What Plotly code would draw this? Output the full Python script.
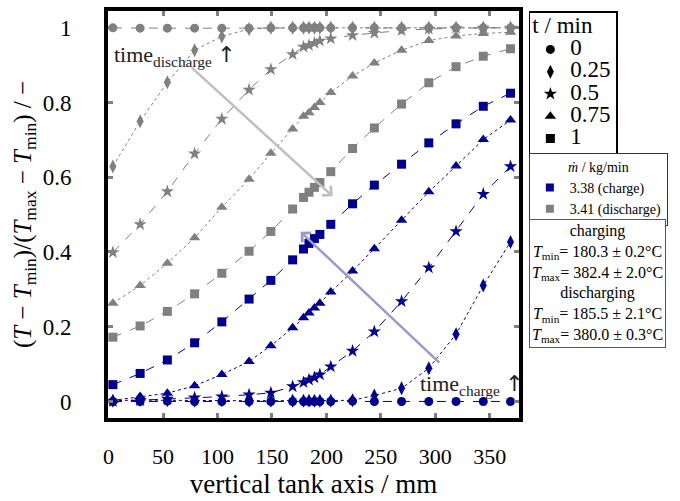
import plotly.graph_objects as go

# sensor positions along the vertical tank axis (mm)
positions = [4, 29, 54, 79, 104, 129, 149, 169, 179, 184, 189, 194, 204,
             224, 244, 269, 294, 319, 344, 369]

# dimensionless temperature, charging (m = 3.38 kg/min)
charge_t0 = [0.0, 0.0, 0.001, 0.0, 0.0, 0.0, 0.0, 0.0, 0.0, 0.0, 0.0, 0.0, 0.0,
             0.001, 0.0, 0.0, 0.0, 0.0, 0.0, 0.0]
charge_t025 = [0.002, 0.004, 0.003, 0.002, 0.003, 0.002, 0.002, 0.002, 0.002, 0.002,
               0.002, 0.002, 0.002, 0.003, 0.016, 0.035, 0.089, 0.180, 0.310, 0.427]
charge_t05 = [0.0, 0.003, 0.007, 0.010, 0.013, 0.018, 0.023, 0.040, 0.051, 0.058,
              0.064, 0.072, 0.093, 0.135, 0.187, 0.268, 0.358, 0.455, 0.555, 0.629]
charge_t075 = [0.003, 0.013, 0.022, 0.042, 0.072, 0.107, 0.149, 0.197, 0.224, 0.237,
               0.250, 0.263, 0.293, 0.349, 0.409, 0.485, 0.561, 0.630, 0.701, 0.753]
charge_t1 = [0.045, 0.075, 0.111, 0.157, 0.213, 0.274, 0.324, 0.379, 0.408, 0.423,
             0.436, 0.447, 0.474, 0.529, 0.579, 0.635, 0.692, 0.743, 0.790, 0.825]

# dimensionless temperature, discharging (m = 3.41 kg/min)
discharge_t0 = [1.0, 0.999, 0.999, 0.999, 0.999, 0.999, 1.0, 1.0, 1.0, 1.0,
                1.0, 1.0, 1.0, 1.0, 1.0, 1.0, 1.0, 1.0, 1.0, 1.0]
discharge_t025 = [0.629, 0.750, 0.854, 0.940, 0.977, 0.997, 1.0, 1.0, 1.0, 1.0,
                  1.0, 1.0, 1.0, 1.0, 1.0, 1.0, 1.0, 1.0, 1.0, 1.0]
discharge_t05 = [0.399, 0.474, 0.562, 0.663, 0.756, 0.834, 0.889, 0.929, 0.949, 0.953,
                 0.959, 0.965, 0.971, 0.980, 0.986, 0.993, 0.997, 0.999, 1.0, 1.0]
discharge_t075 = [0.263, 0.310, 0.370, 0.438, 0.520, 0.595, 0.664, 0.729, 0.763, 0.773,
                  0.787, 0.800, 0.827, 0.871, 0.906, 0.940, 0.966, 0.978, 0.985, 0.988]
discharge_t1 = [0.172, 0.202, 0.241, 0.288, 0.343, 0.402, 0.455, 0.515, 0.546, 0.560,
                0.573, 0.586, 0.615, 0.677, 0.732, 0.796, 0.853, 0.896, 0.924, 0.944]

time_labels = ["0", "0.25", "0.5", "0.75", "1"]
mass_flow_labels = ["3.38 (charge)", "3.41 (discharge)"]
x_ticks = [0, 50, 100, 150, 200, 250, 300, 350]
y_ticks = [0, 0.2, 0.4, 0.6, 0.8, 1]
y_tick_text = ["0", "0.2", "0.4", "0.6", "0.8", "1"]

BLUE = "#00008f"
GREY = "#808080"
FONT = "Liberation Serif"
ARROW = "<span style='font-family:DejaVu Sans'>↑</span>"

symbols = ["circle", "diamond-tall", "star", "triangle-up", "square"]
sizes = [9, 10, 10, 10, 9]
dashes = ["dash", "dot", "dash", "dot", "dash"]

fig = go.Figure()

for series_set, color in [([discharge_t0, discharge_t025, discharge_t05, discharge_t075, discharge_t1], GREY),
                          ([charge_t0, charge_t025, charge_t05, charge_t075, charge_t1], BLUE)]:
    for vals, sym, sz, dsh in zip(series_set, symbols, sizes, dashes):
        fig.add_trace(go.Scatter(
            x=positions, y=vals, mode="lines+markers",
            line=dict(color=color, width=1, dash=dsh),
            marker=dict(symbol=sym, size=sz, color=color, line=dict(width=0)),
            showlegend=False, hoverinfo="skip"))

# legend 1: time
for lab, sym, sz in zip(time_labels, symbols, sizes):
    fig.add_trace(go.Scatter(
        x=[None], y=[None], mode="markers",
        name=f"<span style='font-size:23px'>{lab}</span>",
        marker=dict(symbol=sym, size=sz, color="black"),
        legend="legend"))

# legend 2: mass flow
for lab, color in zip(mass_flow_labels, [BLUE, GREY]):
    fig.add_trace(go.Scatter(
        x=[None], y=[None], mode="markers", name=lab,
        marker=dict(symbol="square", size=8, color=color),
        legend="legend2"))

fig.update_layout(
    width=680, height=501,
    margin=dict(l=108, r=161, t=7, b=83),
    paper_bgcolor="white", plot_bgcolor="white",
    font=dict(family=FONT, color="black", size=22),
    xaxis=dict(
        range=[-0.5, 376.8], tickvals=x_ticks, ticktext=[str(v) for v in x_ticks],
        showgrid=False, zeroline=False,
        showline=True, linewidth=4, linecolor="black", mirror="ticks",
        ticks="inside", ticklen=5, tickwidth=2.5, tickcolor=GREY,
        tickfont=dict(size=22, family=FONT), ticklabelstandoff=16,
        title=dict(text="vertical tank axis / mm", font=dict(size=27, family=FONT), standoff=4),
    ),
    yaxis=dict(
        range=[-0.0443, 1.045], tickvals=y_ticks, ticktext=y_tick_text,
        showgrid=False, zeroline=False,
        showline=True, linewidth=4, linecolor="black", mirror="ticks",
        ticks="inside", ticklen=5, tickwidth=2.5, tickcolor=GREY,
        tickfont=dict(size=23, family=FONT), ticklabelstandoff=28,
        title=dict(text="(<i>T</i> − <i>T</i><sub>min</sub>)/(<i>T</i><sub>max</sub> − <i>T</i><sub>min</sub>) / −",
                   font=dict(size=25, family=FONT), standoff=5),
    ),
    legend=dict(
        x=1.024, y=1.0, xanchor="left", yanchor="top",
        bordercolor="black", borderwidth=1.5, bgcolor="white",
        font=dict(size=14.8, family=FONT),
        title=dict(text="<span style='font-size:23px'>t / min</span>", font=dict(size=16, family=FONT)),
        itemwidth=30, tracegroupgap=0,
    ),
    legend2=dict(
        x=1.024, y=0.652, xanchor="left", yanchor="top",
        bordercolor="#333333", borderwidth=1, bgcolor="white",
        font=dict(size=14, family=FONT),
        title=dict(text="<i>ṁ</i> / kg/min", font=dict(size=14, family=FONT), side="top center"),
        itemwidth=30, tracegroupgap=0,
    ),
)

# arrows
fig.add_annotation(x=205.8, y=0.549, ax=75, ay=0.897, xref="x", yref="y",
                   axref="x", ayref="y", text="", showarrow=True,
                   arrowhead=4, arrowsize=1, arrowwidth=2.5, arrowcolor="#c0c0c0")
fig.add_annotation(x=176.3, y=0.454, ax=305, ay=0.10, xref="x", yref="y",
                   axref="x", ayref="y", text="", showarrow=True,
                   arrowhead=4, arrowsize=1, arrowwidth=2.5, arrowcolor="#9a9acc")

fig.add_annotation(x=3.0, y=0.925, xref="x", yref="y", xanchor="left", yanchor="middle",
                   text=f"time<sub>discharge</sub> {ARROW}", showarrow=False,
                   font=dict(size=22, family=FONT, color="#222222"))
fig.add_annotation(x=1.016, y=0.045, xref="paper", yref="y", xanchor="right", yanchor="middle",
                   text=f"time<sub>charge</sub> {ARROW}", showarrow=False,
                   font=dict(size=22, family=FONT, color="#222222"))

# legend 3: temperature ranges
fig.add_annotation(
    x=1.024, y=0.488, xref="paper", yref="paper", xanchor="left", yanchor="top",
    text=("charging<br><i>T</i><sub>min</sub>= 180.3 ± 0.2°C<br>"
          "<i>T</i><sub>max</sub>= 382.4 ± 2.0°C<br>discharging<br>"
          "<i>T</i><sub>min</sub>= 185.5 ± 2.1°C<br><i>T</i><sub>max</sub>= 380.0 ± 0.3°C"),
    showarrow=False, align="center",
    font=dict(size=16, family=FONT, color="black"),
    bordercolor="#555555", borderwidth=1, borderpad=2, bgcolor="white")

fig.write_html("out.html")
